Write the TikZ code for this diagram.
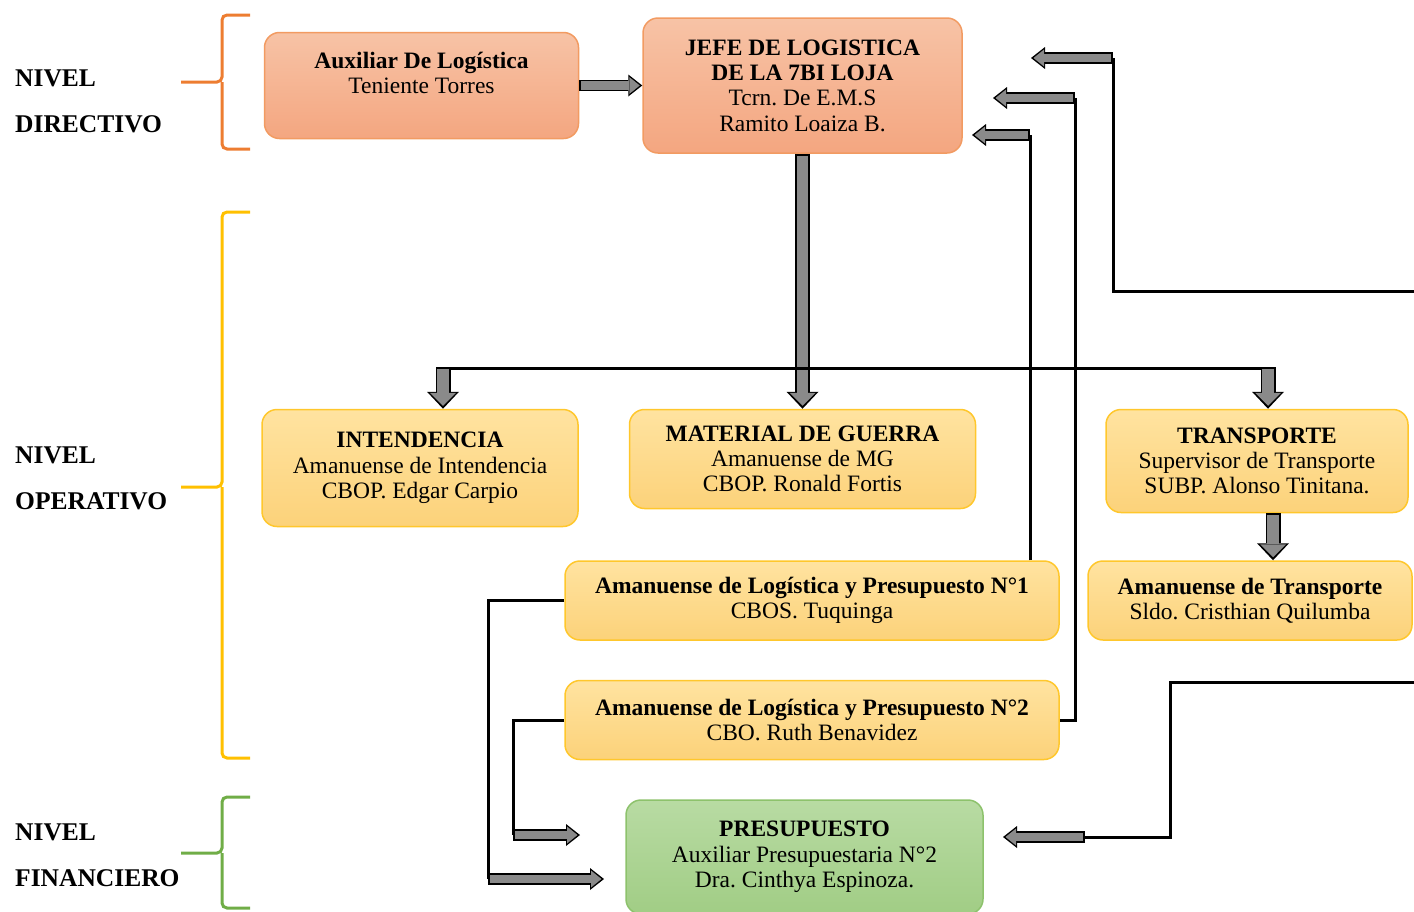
\documentclass[tikz,border=0pt]{standalone}
\usepackage{fontspec}
\setmainfont{Liberation Serif}
\usetikzlibrary{positioning,arrows.meta}
\definecolor{orTop}{HTML}{F7C3A6}
\definecolor{orBot}{HTML}{F4A680}
\definecolor{orLine}{HTML}{F29B62}
\definecolor{ylTop}{HTML}{FFE3A0}
\definecolor{ylBot}{HTML}{FCD27A}
\definecolor{ylLine}{HTML}{FFC72C}
\definecolor{grTop}{HTML}{B8DBA3}
\definecolor{grBot}{HTML}{A1CD85}
\definecolor{grLine}{HTML}{8DC26C}
\definecolor{brOr}{HTML}{ED7D31}
\definecolor{brYl}{HTML}{FFC000}
\definecolor{brGr}{HTML}{70AD47}
\definecolor{blkFill}{HTML}{8A8A8A}
\newcommand*\boxfont{\frenchspacing\fontsize{23.5}{25.3}\selectfont}

\begin{document}
\begin{tikzpicture}[
      x=1pt, y=-1pt,
      box/.style={draw, line width=1.5pt, rounded corners=15pt, align=center, inner sep=2pt, font=\boxfont},
      dirbox/.style={box, top color=orTop, bottom color=orBot, draw=orLine},
      opbox/.style={box, top color=ylTop, bottom color=ylBot, draw=ylLine},
      finbox/.style={box, top color=grTop, bottom color=grBot, draw=grLine},
      level/.style={anchor=west, align=left, inner sep=0pt, font=\bfseries\fontsize{25.5}{46}\selectfont},
      brace/.style={line width=3pt, rounded corners=5pt},
      wire/.style={line width=3pt, line join=miter},
      blk/.style={line width=11.5pt, draw=black, -{Triangle[length=14pt,width=22pt,line width=0pt]},
        postaction={draw=blkFill, line width=8.5pt, shorten <=2pt, shorten >=2.5pt, -{Triangle[length=10.5pt,width=17pt,line width=0pt]}}},
      vblk/.style={line width=15pt, draw=black, -{Triangle[length=17pt,width=32pt,line width=0pt]},
        postaction={draw=blkFill, line width=11.5pt, shorten <=2pt, shorten >=3pt, -{Triangle[length=13pt,width=26pt,line width=0pt]}}},
    ]
      \useasboundingbox (0,0) rectangle (1414,911);

      % levels
      \node[level] (lvdir) at (15,101.5) {NIVEL\\DIRECTIVO};
      \node[level] (lvop) at (15,478.5) {NIVEL\\OPERATIVO};
      \node[level] (lvfin) at (15,855.5) {NIVEL\\FINANCIERO};
      \draw[brace, brOr] (250,15) -- (222,15) -- (222,82) -- (181,82);
      \draw[brace, brOr] (250,149) -- (222,149) -- (222,82);
      \draw[brace, brYl] (250,212) -- (222,212) -- (222,487) -- (181,487);
      \draw[brace, brYl] (250,758) -- (222,758) -- (222,487);
      \draw[brace, brGr] (250,797) -- (222,797) -- (222,853) -- (181,853);
      \draw[brace, brGr] (250,908) -- (222,908) -- (222,853);

      % boxes
      \node[dirbox, minimum width=319pt, minimum height=135pt] (jefe) at (802.5,85.5)
        {\textbf{JEFE DE LOGISTICA}\\\textbf{DE LA 7BI LOJA}\\Tcrn. De E.M.S\\Ramito Loaiza B.};
      \node[dirbox, minimum width=314pt, minimum height=106pt, left=63pt of jefe] (aux)
        {\textbf{Auxiliar De Logística}\\Teniente Torres\\~};
      \node[opbox, minimum width=346pt, minimum height=99pt, below=255pt of jefe] (mat)
        {\textbf{MATERIAL DE GUERRA}\\Amanuense de MG\\CBOP. Ronald Fortis};
      \node[opbox, minimum width=316pt, minimum height=117pt, left=50pt of mat.north west, anchor=north east] (intend)
        {\textbf{INTENDENCIA}\\Amanuense de Intendencia\\CBOP. Edgar Carpio};
      \node[opbox, minimum width=302pt, minimum height=103pt, right=129pt of mat.north east, anchor=north west] (trans)
        {\textbf{TRANSPORTE}\\Supervisor de Transporte\\SUBP. Alonso Tinitana.};
      \node[opbox, minimum width=324pt, minimum height=79pt] (amtrans) at (1250,600.5)
        {\textbf{Amanuense de Transporte}\\Sldo. Cristhian Quilumba};
      \node[opbox, minimum width=494pt, minimum height=79pt] (alp1) at (812,600.5)
        {\textbf{Amanuense de Logística y Presupuesto N°1}\\CBOS. Tuquinga};
      \node[opbox, minimum width=494pt, minimum height=79pt, below=39pt of alp1] (alp2)
        {\textbf{Amanuense de Logística y Presupuesto N°2}\\CBO. Ruth Benavidez};
      \node[finbox, minimum width=357pt, minimum height=114pt] (presu) at (804.5,857)
        {\textbf{PRESUPUESTO}\\Auxiliar Presupuestaria N°2\\Dra. Cinthya Espinoza.};

      % downward links
      \coordinate (busL) at (443,368);
      \coordinate (busR) at (1268,368);
      \draw[blk] (aux.east) -- (jefe.west);
      \draw[vblk] (jefe.south) -- (mat.north);
      \draw[wire] (busL) -- (busR);
      \draw[vblk] ([yshift=1pt]busL) -- (busL |- intend.north);
      \draw[vblk] ([yshift=1pt]busR) -- (busR |- trans.north);
      \draw[vblk] ([xshift=16pt]trans.south) -- ([xshift=16pt]trans.south |- amtrans.north);

      % links back to the jefe
      \coordinate (inA) at (1414,291);
      \coordinate (tA) at (1113,58);
      \coordinate (hA) at (1031,58);
      \coordinate (tB) at (1075,98);
      \coordinate (hB) at (993,98);
      \coordinate (tC) at (1030,135);
      \coordinate (hC) at (972,135);
      \draw[wire] (inA) -| (tA);
      \draw[blk] (tA) -- (hA);
      \draw[wire] (alp2.east) -| (tB);
      \draw[blk] (tB) -- (hB);
      \draw[wire] (tC |- alp1.north) -- (tC);
      \draw[blk] (tC) -- (hC);

      % links to presupuesto
      \coordinate (tD) at (488,879);
      \coordinate (hD) at (604,879);
      \coordinate (tE) at (513,835);
      \coordinate (hE) at (580,835);
      \coordinate (inF) at (1414,682);
      \coordinate (cF) at (1170,837);
      \coordinate (tF) at (1085,837);
      \coordinate (hF) at (1003,837);
      \draw[wire] (alp1.west) -| (tD);
      \draw[blk] (tD) -- (hD);
      \draw[wire] (alp2.west) -| (tE);
      \draw[blk] (tE) -- (hE);
      \draw[wire] (inF) -| (cF) -- (tF);
      \draw[blk] (tF) -- (hF);
\end{tikzpicture}
\end{document}
